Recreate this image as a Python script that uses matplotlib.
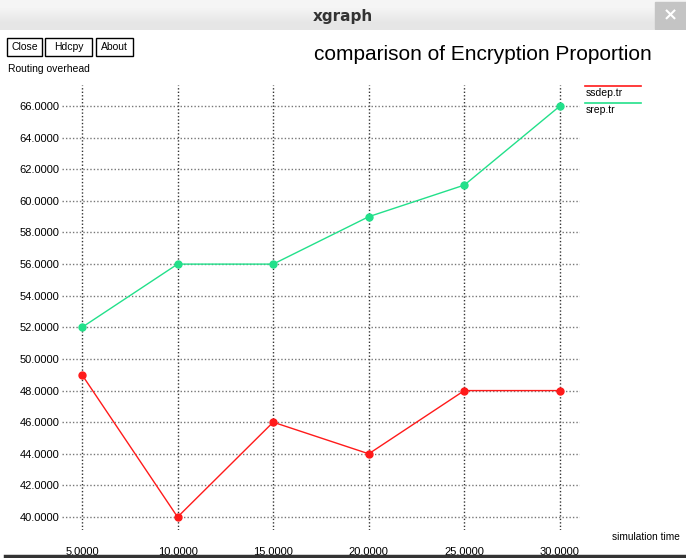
import matplotlib
matplotlib.use("Agg")
import matplotlib.pyplot as plt
from matplotlib.patches import Rectangle

plt.rcParams['font.family'] = ['Liberation Sans', 'DejaVu Sans']

W, H = 686, 558

# data
times = [5, 10, 15, 20, 25, 30]
ssdep = [49, 40, 46, 44, 48, 48]
srep = [52, 56, 56, 59, 61, 66]
yticks = [40, 42, 44, 46, 48, 50, 52, 54, 56, 58, 60, 62, 64, 66]

red = "#ff1a1a"
green = "#22e08a"

fig = plt.figure(figsize=(W / 100, H / 100), dpi=100)
fig.patch.set_facecolor("white")

def px(x, y):
    # pixel coords (from top-left) -> figure fraction
    return x / W, 1 - y / H

# window title bar
bar = fig.add_axes([0, 1 - 30 / H, 1, 30 / H])
bar.imshow([[0.96], [0.90]], cmap="gray", vmin=0, vmax=1,
           aspect="auto", extent=[0, 1, 0, 1], interpolation="bilinear")
bar.add_patch(Rectangle((655 / W, 0.05), 31 / W, 0.9, color="#c4c4c4"))
bar.text(670 / W, 0.5, "×", ha="center", va="center", color="white",
         fontsize=13, fontweight="bold", family="DejaVu Sans")
bar.text(0.5, 0.45, "xgraph", ha="center", va="center", fontsize=11,
         fontweight="bold", color="#333333", family="DejaVu Sans")
bar.set_xlim(0, 1)
bar.set_ylim(0, 1)
bar.axis("off")

# buttons
for label, x0, x1 in [("Close", 7, 42), ("Hdcpy", 45, 92), ("About", 96, 133)]:
    fx0, fy0 = px(x0, 56)
    fig.patches.append(Rectangle((fx0, fy0), (x1 - x0) / W, 18 / H,
                                 transform=fig.transFigure, fill=False,
                                 edgecolor="black", linewidth=1))
    fig.text(*px((x0 + x1) / 2, 47), label, ha="center", va="center",
             fontsize=7.5)

fig.text(*px(8, 69), "Routing overhead", ha="left", va="center", fontsize=7.5)
fig.text(*px(483, 55), "comparison of Encryption Proportion", ha="center",
         va="center", fontsize=15)
fig.text(*px(612, 537), "simulation time", ha="left", va="center",
         fontsize=7.3)

# plot area
left, right, top, bottom = 62, 580, 85, 530
ax = fig.add_axes([left / W, 1 - bottom / H, (right - left) / W,
                   (bottom - top) / H])
ax.set_xlim(3.954, 31.05)
ax.set_ylim(39.18, 67.33)
for s in ax.spines.values():
    s.set_visible(False)
ax.set_xticks(times)
ax.set_xticklabels([f"{t:.4f}" for t in times])
ax.set_yticks(yticks)
ax.set_yticklabels([f"{v:.4f}" for v in yticks])
ax.tick_params(length=0, labelsize=8)
ax.tick_params(axis="x", pad=12)
ax.tick_params(axis="y", pad=2)
ax.grid(axis="x", linestyle=(0, (1, 1.5)), color="#333333", linewidth=1)
ax.grid(axis="y", linestyle=(0, (1, 1.5)), color="#777777", linewidth=1)

ax.plot(times, ssdep, color=red, linewidth=1, marker="o", markersize=5,
        label="ssdep.tr", zorder=3)
ax.plot(times, srep, color=green, linewidth=1, marker="o", markersize=5,
        label="srep.tr", zorder=3)

# legend drawn xgraph style: line above the name
for name, col, yl in [("ssdep.tr", red, 86), ("srep.tr", green, 103)]:
    fig.add_artist(plt.Line2D([585 / W, 641 / W], [1 - yl / H, 1 - yl / H],
                              color=col, linewidth=1.2,
                              transform=fig.transFigure))
    fig.text(*px(586, yl + 7), name, ha="left", va="center", fontsize=7.5)

# bottom window edge
fig.add_artist(plt.Line2D([5 / W, 1], [1 - 556 / H, 1 - 556 / H],
                          color="#333333", linewidth=2.5,
                          transform=fig.transFigure))

fig.savefig("out.png", dpi=100)
